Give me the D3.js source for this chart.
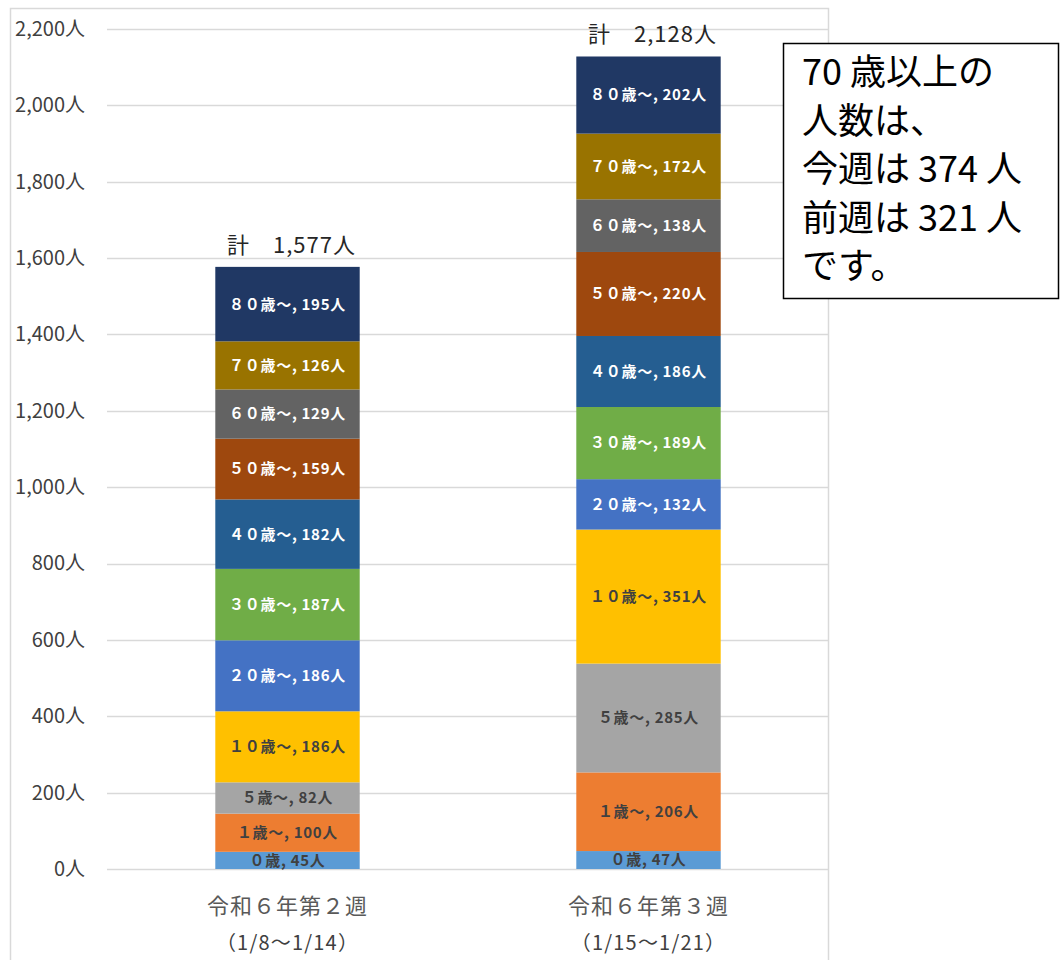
<!DOCTYPE html>
<html><head><meta charset="utf-8">
<script src="https://cdn.jsdelivr.net/npm/d3@7"></script>
<style>
html,body{margin:0;padding:0;background:#fff;}
svg{display:block;}
text{font-family:"Noto Sans CJK JP","Noto Sans",sans-serif;}
</style></head>
<body><svg id="chart" width="1061" height="960"></svg>
<script>
// ---- data ----
const weeks = ["令和６年第２週", "令和６年第３週"];
const weekRanges = ["（1/8～1/14）", "（1/15～1/21）"];
const ageGroups = ["０歳", "１歳～", "５歳～", "１０歳～", "２０歳～", "３０歳～", "４０歳～", "５０歳～", "６０歳～", "７０歳～", "８０歳～"];
const week2Values = [45, 100, 82, 186, 186, 187, 182, 159, 129, 126, 195];
const week3Values = [47, 206, 285, 351, 132, 189, 186, 220, 138, 172, 202];
const totals = [1577, 2128];
const yTicks = [0, 200, 400, 600, 800, 1000, 1200, 1400, 1600, 1800, 2000, 2200];
const noteLines = ["70 歳以上の", "人数は、", "今週は 374 人", "前週は 321 人", "です。"];

const colors = ["#5B9BD5", "#ED7D31", "#A5A5A5", "#FFC000", "#4472C4", "#70AD47", "#255E91", "#9E480E", "#636363", "#997300", "#203864"];
const darkLabel = [true, true, true, true, false, false, false, false, false, false, false];

const svg = d3.select("#chart");
const fmt = d3.format(",");

// chart frame
svg.append("rect").attr("x", 10.5).attr("y", 8.5).attr("width", 818).attr("height", 960)
  .attr("fill", "none").attr("stroke", "#d9d9d9").attr("stroke-width", 1.5);

const x = d3.scaleBand().domain(weeks).range([107, 829]).paddingInner(0.6).paddingOuter(0.3);
const y = d3.scaleLinear().domain([0, 2200]).range([869, 29]);

// gridlines
svg.append("g").selectAll("line").data(yTicks).join("line")
  .attr("x1", 107).attr("x2", 829)
  .attr("y1", d => Math.round(y(d)) + 0.5).attr("y2", d => Math.round(y(d)) + 0.5)
  .attr("stroke", "#d9d9d9").attr("stroke-width", 1.5);

// y axis labels
const yAxis = d3.axisLeft(y).tickValues(yTicks).tickSize(0).tickPadding(0).tickFormat(d => fmt(d) + "人");
const gy = svg.append("g").attr("transform", "translate(85,0)").call(yAxis);
gy.select(".domain").remove();
gy.selectAll("text").attr("font-size", 20).attr("fill", "#404040")
  .style("font-family", '"Noto Sans CJK JP",sans-serif');

// stacked data
const series = [week2Values, week3Values];
const rows = weeks.map((w, i) => {
  const r = { week: w };
  ageGroups.forEach((a, j) => r[a] = series[i][j]);
  return r;
});
const stack = d3.stack().keys(ageGroups)(rows);

const layers = svg.append("g").selectAll("g").data(stack).join("g")
  .attr("fill", (d, i) => colors[i]);
layers.selectAll("rect").data(d => d.map(s => ({ s, key: d.key }))).join("rect")
  .attr("x", d => x(d.s.data.week))
  .attr("width", x.bandwidth())
  .attr("y", d => y(d.s[1]))
  .attr("height", d => y(d.s[0]) - y(d.s[1]));

// segment labels
const lg = svg.append("g");
stack.forEach((layer, i) => {
  layer.forEach(s => {
    const v = s[1] - s[0];
    lg.append("text")
      .attr("x", x(s.data.week) + x.bandwidth() / 2)
      .attr("y", (y(s[0]) + y(s[1])) / 2)
      .attr("dy", "0.36em")
      .attr("text-anchor", "middle")
      .attr("font-size", 15)
      .attr("letter-spacing", 0.7)
      .attr("font-weight", "bold")
      .attr("fill", darkLabel[i] ? "#404040" : "#ffffff")
      .text(layer.key + ", " + v + "人");
  });
});

// totals
svg.append("g").selectAll("text").data(weeks).join("text")
  .attr("x", d => x(d) + x.bandwidth() / 2 + 4)
  .attr("y", (d, i) => y(totals[i]) - 14)
  .attr("text-anchor", "middle")
  .attr("font-size", 22)
  .attr("letter-spacing", 1)
  .attr("fill", "#262626")
  .text((d, i) => "計　" + fmt(totals[i]) + "人");

// x axis labels
svg.append("g").selectAll("text").data(weeks).join("text")
  .attr("x", d => x(d) + x.bandwidth() / 2)
  .attr("y", 914)
  .attr("text-anchor", "middle")
  .attr("font-size", 22)
  .attr("letter-spacing", 1)
  .attr("fill", "#595959")
  .text(d => d);
svg.append("g").selectAll("text").data(weekRanges).join("text")
  .attr("x", (d, i) => x(weeks[i]) + x.bandwidth() / 2)
  .attr("y", 950)
  .attr("text-anchor", "middle")
  .attr("font-size", 20)
  .attr("letter-spacing", 1.2)
  .attr("fill", "#404040")
  .text(d => d);

// note box
svg.append("rect").attr("x", 783.5).attr("y", 43.5).attr("width", 275).attr("height", 255)
  .attr("fill", "#fff").attr("stroke", "#000").attr("stroke-width", 1.5);
svg.append("g").selectAll("text").data(noteLines).join("text")
  .attr("x", 802)
  .attr("y", (d, i) => 85 + i * 48.5)
  .attr("font-size", 36)
  .attr("fill", "#000")
  .text(d => d);
</script>
</body></html>
